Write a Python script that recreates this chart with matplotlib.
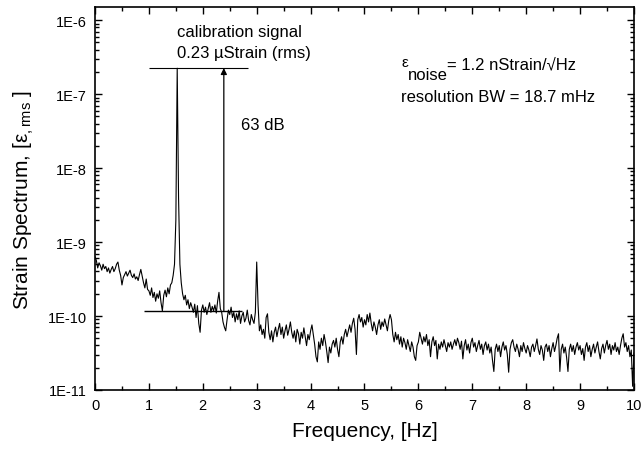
import numpy as np
import matplotlib
matplotlib.use('Agg')
import matplotlib.pyplot as plt
from matplotlib.ticker import MultipleLocator, FixedLocator, NullFormatter
from matplotlib.patches import FancyArrowPatch

plt.rcParams['font.family'] = ['Liberation Sans', 'DejaVu Sans']
plt.rcParams['mathtext.fontset'] = 'custom'
plt.rcParams['mathtext.rm'] = 'Liberation Sans'
plt.rcParams['mathtext.it'] = 'Liberation Sans:italic'

# Spectre mesuré : log10 de la déformation, un point tous les 25 mHz (0 à 10 Hz)
freq_step = 0.025
log_strain_0 = [-9.20, -9.25, -9.35, -9.28, -9.32, -9.38, -9.30, -9.36, -9.33, -9.40,
                -9.35, -9.42, -9.37, -9.33, -9.40, -9.36, -9.30, -9.27, -9.38, -9.45,
                -9.58, -9.48, -9.44, -9.40, -9.46, -9.42, -9.38, -9.45, -9.48, -9.43,
                -9.50, -9.47, -9.52, -9.44, -9.37, -9.46, -9.55, -9.62, -9.50, -9.64]
log_strain_1 = [-9.66, -9.72, -9.62, -9.75, -9.68, -9.80, -9.70, -9.76, -9.66, -9.82,
                -9.93, -9.72, -9.65, -9.74, -9.62, -9.70, -9.58, -9.55, -9.45, -9.30,
                -8.70, -6.65, -8.40, -9.30, -9.55, -9.70, -9.78, -9.72, -9.85, -9.78,
                -9.90, -9.82, -9.88, -9.95, -9.84, -10.02, -9.86, -10.10, -10.22, -9.92]
log_strain_2 = [-9.85, -9.95, -9.88, -9.98, -9.90, -9.82, -9.95, -9.87, -9.93, -9.85,
                -9.96, -9.80, -9.68, -9.90, -9.95, -10.08, -10.15, -10.20, -10.05, -9.92,
                -9.98, -9.88, -10.02, -9.95, -10.08, -9.97, -10.05, -9.93, -10.10, -10.00,
                -9.95, -10.08, -10.03, -9.92, -10.06, -10.12, -9.98, -10.05, -10.10, -9.95]
log_strain_3 = [-9.27, -9.85, -10.20, -10.12, -10.25, -10.18, -10.30, -10.02, -9.97, -10.22,
                -10.32, -10.20, -10.35, -10.22, -10.15, -10.28, -10.18, -10.10, -10.25, -10.15,
                -10.30, -10.20, -10.12, -10.26, -10.18, -10.08, -10.22, -10.30, -10.20, -10.35,
                -10.18, -10.24, -10.38, -10.22, -10.30, -10.16, -10.28, -10.40, -10.25, -10.32]
log_strain_4 = [-10.20, -10.12, -10.25, -10.38, -10.55, -10.62, -10.35, -10.45, -10.30, -10.40,
                -10.25, -10.35, -10.48, -10.63, -10.42, -10.50, -10.38, -10.33, -10.42, -10.30,
                -10.45, -10.55, -10.35, -10.28, -10.38, -10.25, -10.18, -10.28, -10.20, -10.12,
                -10.22, -10.10, -10.03, -10.18, -10.52, -10.05, -9.98, -10.08, -10.02, -10.15]
log_strain_5 = [-10.05, -10.12, -9.98, -10.08, -9.96, -10.10, -10.20, -10.08, -10.15, -10.25,
                -10.12, -10.05, -10.18, -10.08, -10.14, -10.04, -10.12, -10.20, -10.06, -9.98,
                -10.05, -10.25, -10.35, -10.22, -10.32, -10.25, -10.38, -10.28, -10.42, -10.30,
                -10.36, -10.45, -10.32, -10.40, -10.48, -10.35, -10.42, -10.55, -10.60, -10.40]
log_strain_6 = [-10.35, -10.22, -10.30, -10.38, -10.28, -10.35, -10.25, -10.40, -10.32, -10.55,
                -10.35, -10.28, -10.40, -10.33, -10.58, -10.38, -10.45, -10.35, -10.42, -10.32,
                -10.40, -10.48, -10.36, -10.42, -10.35, -10.45, -10.38, -10.32, -10.40, -10.30,
                -10.36, -10.45, -10.34, -10.58, -10.40, -10.32, -10.46, -10.38, -10.50, -10.36]
log_strain_7 = [-10.30, -10.42, -10.36, -10.48, -10.40, -10.33, -10.45, -10.38, -10.52, -10.40,
                -10.35, -10.46, -10.38, -10.50, -10.42, -10.60, -10.75, -10.45, -10.38, -10.48,
                -10.40, -10.55, -10.42, -10.35, -10.46, -10.40, -10.52, -10.76, -10.45, -10.36,
                -10.32, -10.42, -10.48, -10.38, -10.45, -10.55, -10.40, -10.48, -10.36, -10.44]
log_strain_8 = [-10.50, -10.40, -10.46, -10.55, -10.42, -10.38, -10.48, -10.40, -10.31, -10.45,
                -10.52, -10.40, -10.46, -10.60, -10.42, -10.38, -10.48, -10.40, -10.55, -10.44,
                -10.36, -10.48, -10.40, -10.30, -10.24, -10.75, -10.45, -10.38, -10.50, -10.42,
                -10.56, -10.75, -10.45, -10.38, -10.48, -10.40, -10.52, -10.42, -10.36, -10.46]
log_strain_9 = [-10.40, -10.52, -10.44, -10.60, -10.42, -10.36, -10.48, -10.40, -10.55, -10.45,
                -10.38, -10.50, -10.42, -10.35, -10.48, -10.58, -10.44, -10.38, -10.50, -10.40,
                -10.33, -10.45, -10.38, -10.52, -10.40, -10.46, -10.36, -10.48, -10.42, -10.52,
                -10.40, -10.30, -10.24, -10.42, -10.36, -10.48, -10.40, -10.55, -10.46, -10.95,
                -10.50]

# Graduations de l'axe y
y_exponents = [-11, -10, -9, -8, -7, -6]
y_labels = ['1E-11', '1E-10', '1E-9', '1E-8', '1E-7', '1E-6']

# Niveaux de référence pour les annotations
cal_level = 2.25e-7
noise_level = 1.17e-10
arrow_freq = 2.39

log_strain = np.array(log_strain_0 + log_strain_1 + log_strain_2 + log_strain_3 + log_strain_4
                      + log_strain_5 + log_strain_6 + log_strain_7 + log_strain_8 + log_strain_9)
freq = np.arange(len(log_strain)) * freq_step
strain = 10.0 ** log_strain

fig = plt.figure(figsize=(6.42, 4.52), dpi=100)
ax = fig.add_axes([0.148, 0.135, 0.8395, 0.847])

ax.semilogy(freq, strain, color='black', lw=0.8)

# Lignes horizontales et flèche 63 dB
ax.hlines(cal_level, 1.0, 2.83, color='black', lw=0.8)
ax.hlines(noise_level, 0.9, 2.73, color='black', lw=1.0)
arrow = FancyArrowPatch((arrow_freq, noise_level), (arrow_freq, cal_level),
                        arrowstyle='-|>', mutation_scale=9, color='black', lw=0.9,
                        shrinkA=0, shrinkB=0)
ax.add_patch(arrow)

ax.text(1.52, 7.1e-7, 'calibration signal', fontsize=12, va='center')
ax.text(1.52, 3.7e-7, '0.23 µStrain (rms)', fontsize=12, va='center')
ax.text(2.71, 3.9e-8, '63 dB', fontsize=12, va='center')
ax.text(5.68, 2.75e-7, 'ε', fontsize=11, va='center')
ax.text(5.81, 1.86e-7, 'noise', fontsize=12, va='center')
ax.text(6.53, 2.54e-7, '= 1.2 nStrain/√Hz', fontsize=12, va='center')
ax.text(5.68, 9.4e-8, 'resolution BW = 18.7 mHz', fontsize=12, va='center')

ax.set_xlim(0, 10)
ax.set_ylim(1e-11, 1.5e-6)
ax.xaxis.set_major_locator(MultipleLocator(1))
ax.xaxis.set_minor_locator(MultipleLocator(0.5))
major_y = [10.0 ** e for e in y_exponents]
minor_y = [m * 10.0 ** e for e in y_exponents[:-1] for m in range(2, 10)]
ax.yaxis.set_major_locator(FixedLocator(major_y))
ax.yaxis.set_minor_locator(FixedLocator(minor_y))
ax.set_yticklabels(y_labels)
ax.yaxis.set_minor_formatter(NullFormatter())
ax.tick_params(which='both', direction='in', top=True, right=True, labelsize=10.5, width=1, pad=6)
ax.tick_params(which='major', length=5)
ax.tick_params(which='minor', length=3)
for s in ax.spines.values():
    s.set_linewidth(1.2)

ax.set_xlabel('Frequency, [Hz]', fontsize=15, labelpad=6)
ax.set_ylabel(r'Strain Spectrum, [ε$_{,\mathrm{rms}}$ ]', fontsize=15, labelpad=8)

plt.savefig('out.png', dpi=100)
